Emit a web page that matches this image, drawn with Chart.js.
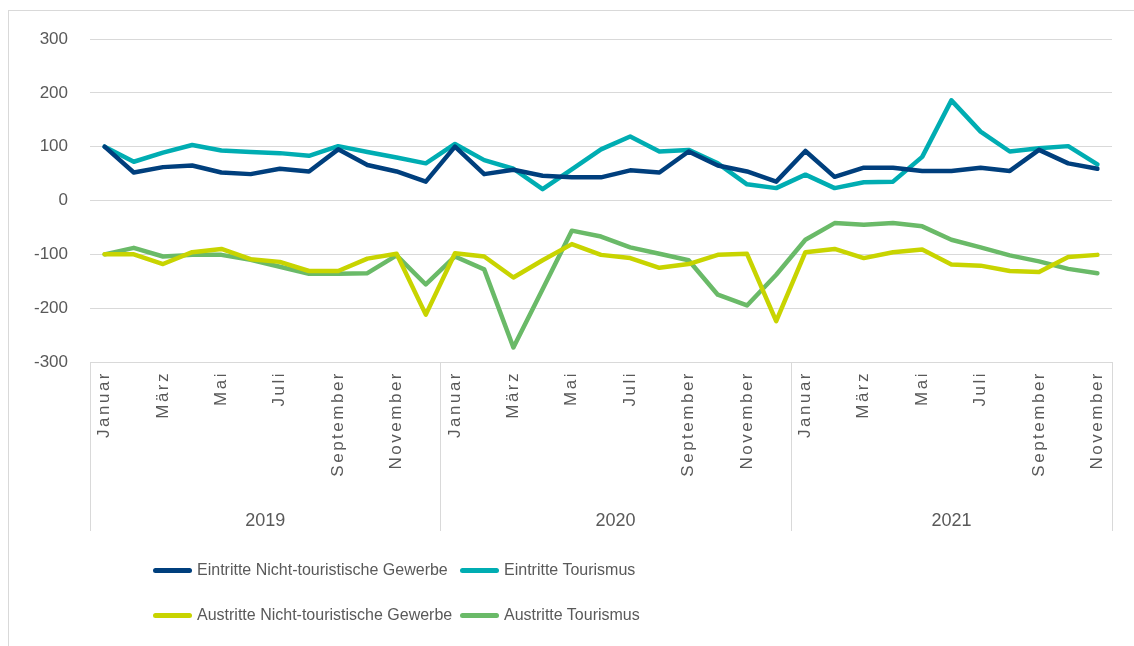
<!DOCTYPE html>
<html>
<head>
<meta charset="utf-8">
<script src="https://cdn.jsdelivr.net/npm/chart.js@4/dist/chart.umd.min.js"></script>
<style>
  html, body { margin: 0; padding: 0; background: #ffffff; }
  #wrap { position: relative; width: 1134px; height: 646px; }
  #frame { position: absolute; left: 8px; top: 10px; width: 1126px; height: 636px;
           border-left: 1px solid #d9d9d9; border-top: 1px solid #d9d9d9; box-sizing: border-box; }
  canvas { position: absolute; left: 0; top: 0; }
  .lg { position: absolute; height: 24px; display: flex; align-items: center;
        font-family: 'Liberation Sans', Arial, sans-serif; font-size: 16px; color: #595959; white-space: nowrap; }
  .lg .sw { display: inline-block; width: 39px; height: 5px; border-radius: 2.5px; margin-right: 5px; }
</style>
</head>
<body>
<div id="wrap">
  <div id="frame"></div>
  <canvas id="c" width="1134" height="646"></canvas>
  <div id="legend"></div>
</div>
<script>
const monthNames = ["Januar","Februar","März","April","Mai","Juni","Juli","August","September","Oktober","November","Dezember"];
const years = ["2019","2020","2021"];
const monthsPerYear = [12, 12, 11];

const categories = [];
years.forEach((y, yi) => {
  for (let m = 0; m < monthsPerYear[yi]; m++) categories.push(monthNames[m] + " " + y);
});

const eintritteNichtTour = [100,52,62,65,52,49,59,54,95,66,54,35,
                            100,49,57,46,43,43,56,52,91,65,54,35,
                            92,44,61,61,55,55,61,55,94,69,59];
const eintritteTourismus = [100,72,89,103,93,90,88,83,101,90,80,69,
                            105,75,59,21,58,95,119,91,94,69,30,23,
                            48,23,34,35,81,186,128,91,97,101,67];
const austritteNichtTour = [-100,-100,-118,-96,-90,-109,-114,-131,-131,-108,-99,-212,
                            -98,-104,-143,-111,-81,-101,-107,-125,-118,-101,-99,-224,
                            -96,-90,-107,-96,-91,-119,-121,-131,-133,-105,-101];
const austritteTourismus = [-100,-88,-104,-101,-101,-110,-123,-136,-136,-135,-102,-156,
                            -104,-128,-273,-165,-56,-67,-87,-99,-111,-175,-195,-138,
                            -73,-42,-45,-42,-48,-73,-87,-102,-113,-127,-135];

const yTicks = [-300,-200,-100,0,100,200,300];
const seriesLabels = ['Eintritte Nicht-touristische Gewerbe','Eintritte Tourismus',
                      'Austritte Nicht-touristische Gewerbe','Austritte Tourismus'];
const seriesColors = ['#003f7d','#00adb2','#c8d400','#6aba68'];

const FONT = "'Liberation Sans', Arial, sans-serif";
const GREY = "#595959";

const separatorPlugin = {
  id: 'yearSeparators',
  afterDraw(chart) {
    const x = chart.scales.x;
    const ctx = chart.ctx;
    const top = chart.chartArea.bottom;
    const bottom = 531;
    let idx = -0.5;
    const bounds = [idx];
    monthsPerYear.forEach(n => { idx += n; bounds.push(idx); });
    ctx.save();
    ctx.strokeStyle = '#d9d9d9';
    ctx.lineWidth = 1;
    bounds.forEach(b => {
      const px = Math.round(x.getPixelForValue(b)) + 0.5;
      ctx.beginPath();
      ctx.moveTo(px, top);
      ctx.lineTo(px, bottom);
      ctx.stroke();
    });
    ctx.restore();
  }
};

const yearCenters = [];
{
  let start = 0;
  monthsPerYear.forEach(n => { yearCenters.push(start + (n - 1) / 2); start += n; });
}

const ds = (label, data, color) => ({
  label, data, borderColor: color, backgroundColor: color,
  borderWidth: 4.5, pointRadius: 0, tension: 0, borderCapStyle: 'round', borderJoinStyle: 'round'
});

new Chart(document.getElementById('c'), {
  type: 'line',
  data: {
    labels: categories,
    datasets: [
      ds(seriesLabels[0], eintritteNichtTour, seriesColors[0]),
      ds(seriesLabels[1], eintritteTourismus, seriesColors[1]),
      ds(seriesLabels[2], austritteNichtTour, seriesColors[2]),
      ds(seriesLabels[3], austritteTourismus, seriesColors[3])
    ]
  },
  plugins: [separatorPlugin],
  options: {
    responsive: false,
    animation: false,
    layout: { padding: { left: 8, right: 22, top: 39, bottom: 114 } },
    plugins: {
      tooltip: { enabled: false },
      legend: { display: false }
    },
    scales: {
      y: {
        min: -300, max: 300,
        afterBuildTicks(s) { s.ticks = yTicks.map(v => ({ value: v })); },
        afterFit(s) { s.width = 82; },
        border: { display: false },
        grid: { color: '#d9d9d9', lineWidth: 1, drawTicks: false },
        ticks: { color: GREY, font: { family: FONT, size: 17 }, padding: 22 }
      },
      x: {
        type: 'category',
        offset: true,
        weight: 1,
        afterFit(s) {
          s.height = 124;
          if (!s._lsPatched) {
            const base = Object.getPrototypeOf(s).drawLabels;
            s.drawLabels = function (area) {
              const ctx = this.ctx;
              ctx.save();
              ctx.letterSpacing = '2.5px';
              base.call(this, area);
              ctx.restore();
            };
            s._lsPatched = true;
          }
        },
        border: { display: true, color: '#d9d9d9' },
        grid: { display: false, drawTicks: false },
        ticks: {
          autoSkip: false, minRotation: 90, maxRotation: 90,
          color: GREY, font: { family: FONT, size: 17 }, padding: 9,
          callback(v, i) { return (i % 12) % 2 === 0 ? monthNames[i % 12] : ''; }
        }
      },
      xYear: {
        type: 'linear',
        position: 'bottom',
        weight: 2,
        min: -0.5, max: categories.length - 0.5,
        afterBuildTicks(s) { s.ticks = yearCenters.map(v => ({ value: v })); },
        afterFit(s) { s.height = 46; },
        border: { display: false },
        grid: { display: false, drawTicks: false },
        ticks: {
          color: GREY, font: { family: FONT, size: 18 }, padding: 24, maxRotation: 0,
          callback(v) { return years[yearCenters.indexOf(v)]; }
        }
      }
    }
  }
});

// legend (2 x 2, like the reference)
const legendPos = [[153, 558], [460, 558], [153, 603], [460, 603]];
const lg = document.getElementById('legend');
seriesLabels.forEach((t, i) => {
  const d = document.createElement('div');
  d.className = 'lg';
  d.style.left = legendPos[i][0] + 'px';
  d.style.top = legendPos[i][1] + 'px';
  const sw = document.createElement('span');
  sw.className = 'sw';
  sw.style.background = seriesColors[i];
  d.appendChild(sw);
  d.appendChild(document.createTextNode(t));
  lg.appendChild(d);
});
</script>
</body>
</html>
